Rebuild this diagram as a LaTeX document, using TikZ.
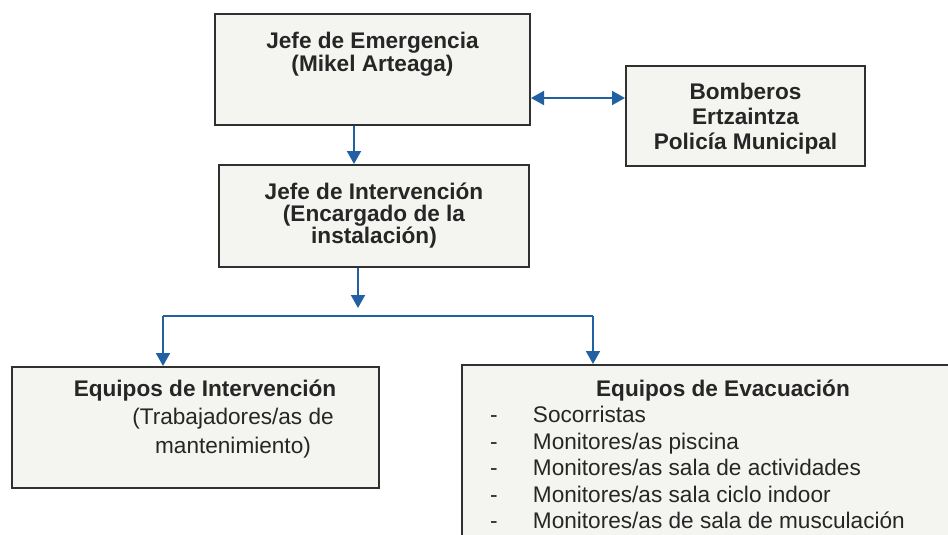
\documentclass[tikz,border=0pt]{standalone}
\usepackage{fontspec}
\setmainfont{Liberation Sans}
\usetikzlibrary{arrows.meta}

\definecolor{azulflecha}{RGB}{33,96,163}
\definecolor{grisfondo}{RGB}{244,244,241}
\definecolor{grisborde}{RGB}{48,48,48}
\definecolor{gristexto}{RGB}{38,38,38}

% ancho, alto, hueco arriba, interlineado, texto
\newcommand{\caja}[5]{\parbox[c][#2][t]{#1}{\baselineskip=#4\centering\vspace*{#3}\rule{0pt}{22pt}#5}}

\begin{document}
\begin{tikzpicture}[x=1pt, y=-1pt,
    font=\fontsize{22.6}{23}\selectfont,
    recuadro/.style={draw=grisborde, line width=2pt, fill=grisfondo, inner sep=0pt, text=gristexto},
    linea/.style={draw=azulflecha, line width=2pt},
    flecha/.style={linea, -{Triangle[length=13pt, width=14pt]}},
    flechadoble/.style={linea, {Triangle[length=13pt, width=14pt]}-{Triangle[length=13pt, width=14pt]}}
    ]
    \useasboundingbox (0,0) rectangle (948,535);

    \node[recuadro] (jefeemer) at (372.5,69.5)
      {\caja{315pt}{111pt}{12pt}{23pt}{\bfseries Jefe de Emergencia\\(Mikel Arteaga)}};
    \node[recuadro] (ayuda) at (745.5,116)
      {\caja{239pt}{100pt}{11pt}{25pt}{\bfseries Bomberos\\Ertzaintza\\Policía Municipal}};
    \node[recuadro] (jefeint) at (374,216)
      {\caja{310pt}{102pt}{12pt}{22pt}{\bfseries Jefe de Intervención\\(Encargado de la\\instalación)}};
    \node[recuadro] (equint) at (195.5,427.5)
      {\caja{367pt}{121pt}{7pt}{28.5pt}{\hspace*{19pt}\textbf{Equipos de Intervención}\\
        \hspace*{75pt}(Trabajadores/as de\\\hspace*{75pt}mantenimiento)}};
    \node[recuadro] (equevac) at (723,455)
      {\caja{522pt}{180pt}{9pt}{26.5pt}{\textbf{Equipos de Evacuación}\par\raggedright
        \hspace*{28pt}\makebox[43pt][l]{-}Socorristas\\
        \hspace*{28pt}\makebox[43pt][l]{-}Monitores/as piscina\\
        \hspace*{28pt}\makebox[43pt][l]{-}Monitores/as sala de actividades\\
        \hspace*{28pt}\makebox[43pt][l]{-}Monitores/as sala ciclo indoor\\
        \hspace*{28pt}\makebox[43pt][l]{-}Monitores/as de sala de musculación}};

    \coordinate (bajada) at ([xshift=-18.5pt]jefeemer.south);
    \coordinate (lado) at ([yshift=-28.5pt]jefeemer.east);
    \coordinate (salida) at ([xshift=-16pt]jefeint.south);
    \coordinate (punta) at (358,308);
    \coordinate (ramal) at (358,316);
    \coordinate (izq) at ([xshift=-32.5pt]equint.north);
    \coordinate (der) at ([xshift=-130pt]equevac.north);

    \draw[flecha] (bajada) -- (bajada |- jefeint.north);
    \draw[flechadoble] (lado) -- (lado -| ayuda.west);
    \draw[flecha] (salida) -- (punta);
    \draw[linea] (izq |- ramal) -- (der |- ramal);
    \draw[flecha] (izq |- ramal) -- (izq);
    \draw[flecha] (der |- ramal) -- (der);
  \end{tikzpicture}
\end{document}
